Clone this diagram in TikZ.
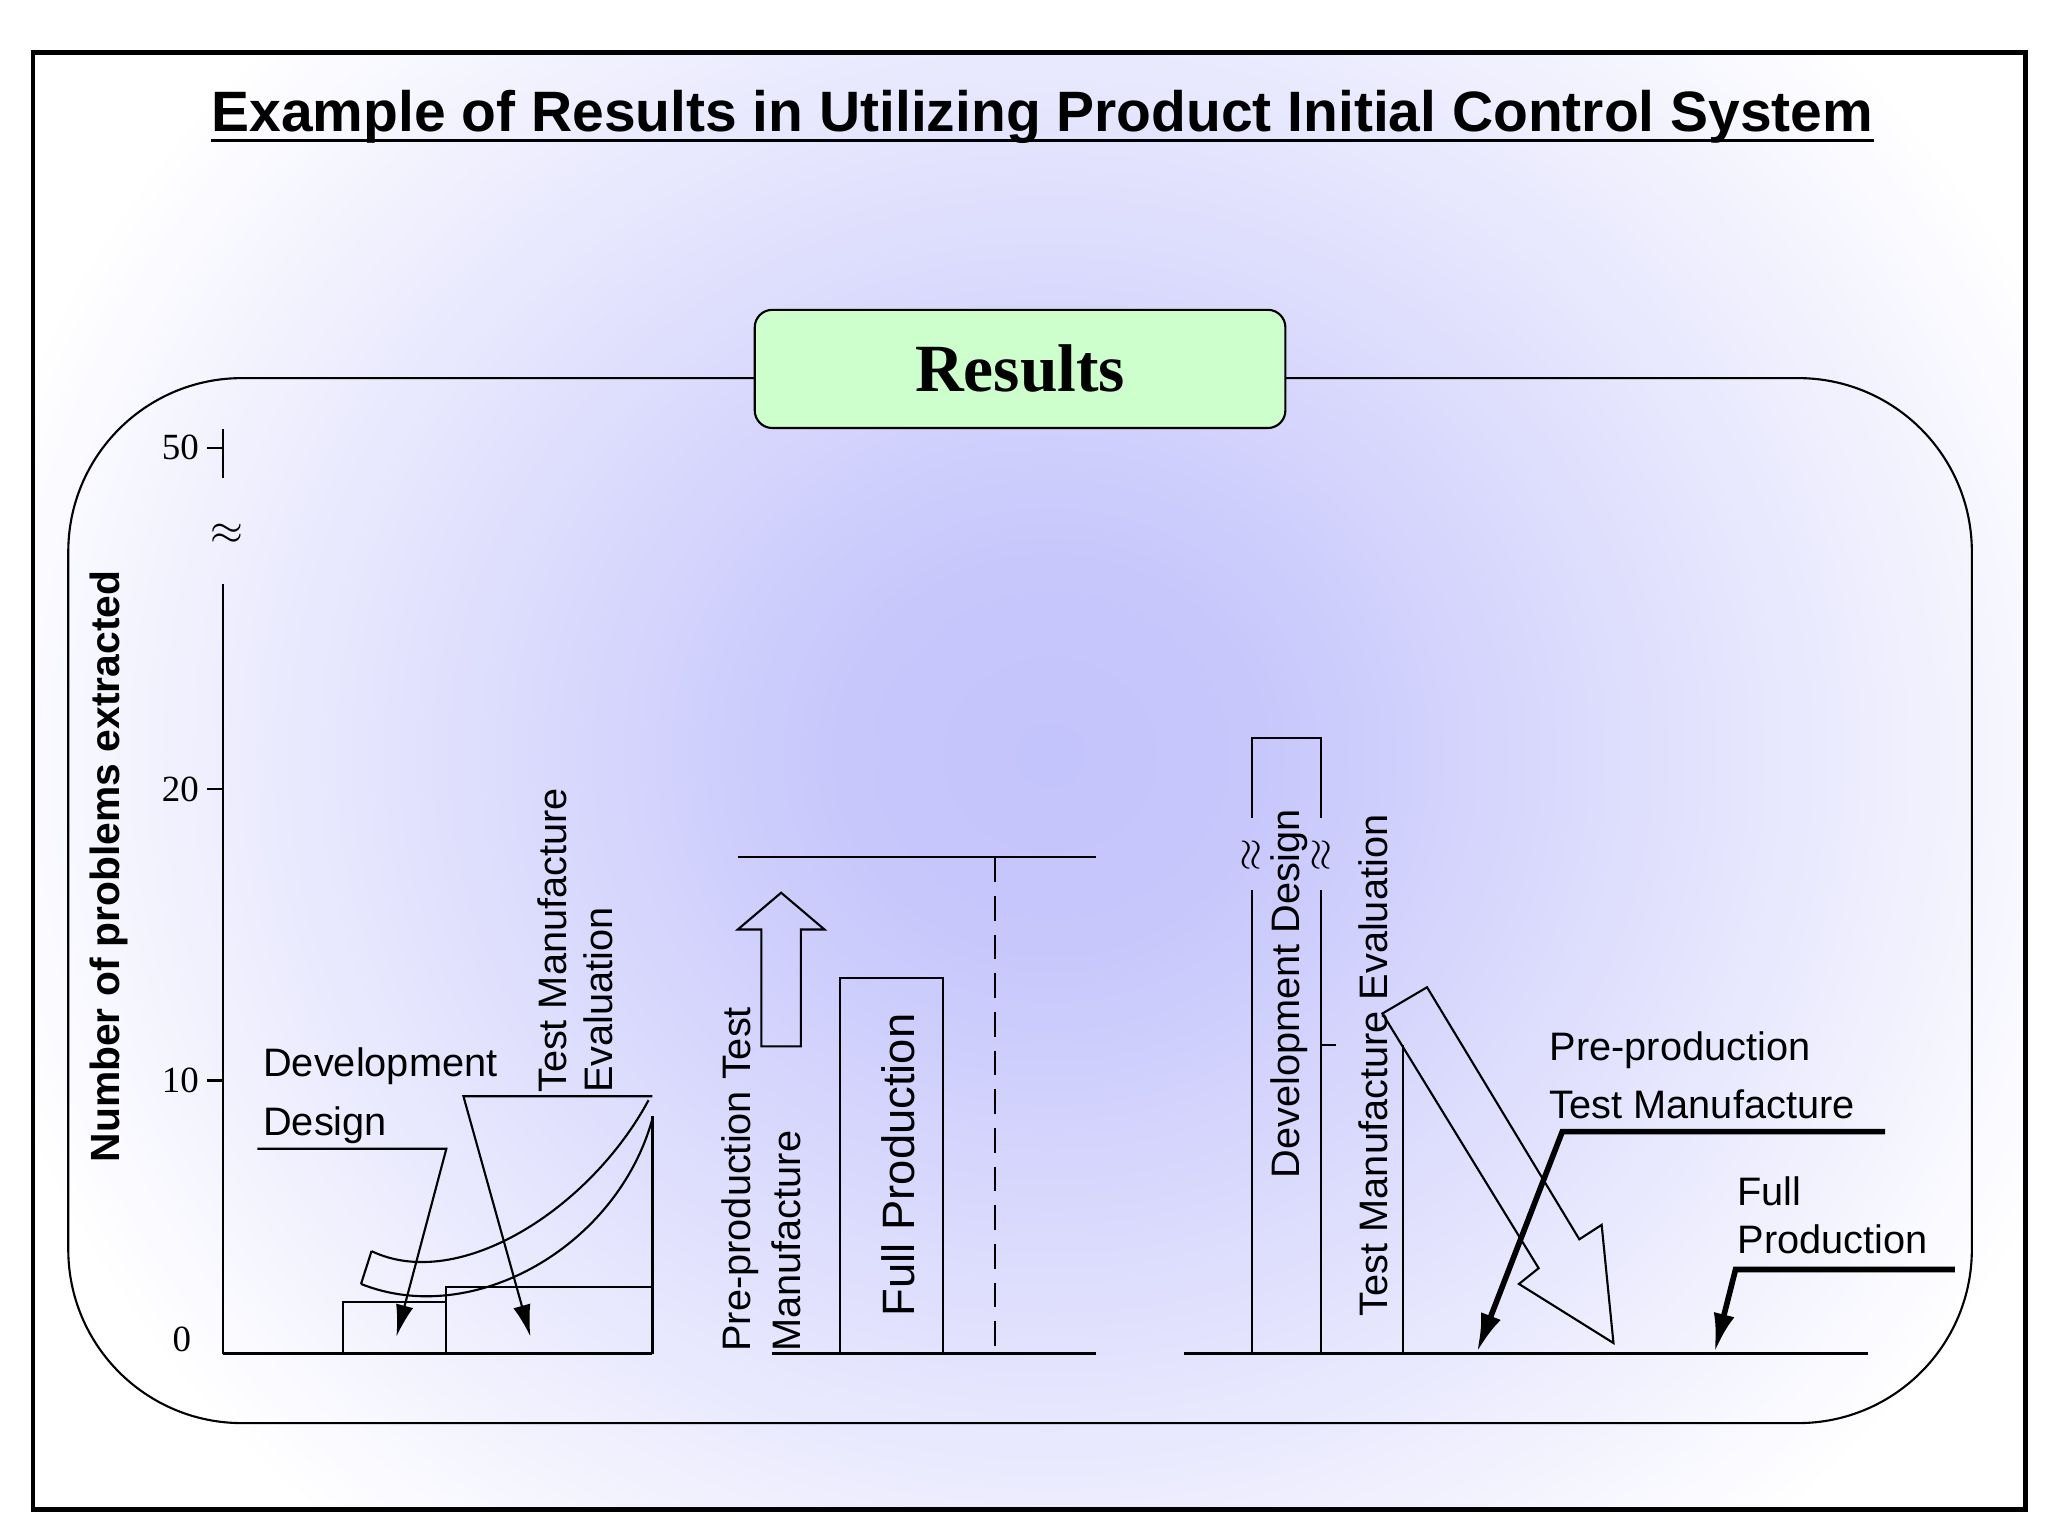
\documentclass[tikz,border=0pt]{standalone}
\usepackage{fontspec}
\setmainfont{Liberation Sans}
\newfontfamily\serf{Liberation Serif}
\usetikzlibrary{arrows.meta}
\definecolor{glow}{RGB}{196,196,252}
\definecolor{resgreen}{RGB}{204,255,204}
\pgfdeclareradialshading{myglow}{\pgfpoint{0bp}{0bp}}{color(0bp)=(glow); color(4bp)=(glow!95!white); color(13bp)=(glow!45!white); color(21bp)=(white); color(50bp)=(white)}
\begin{document}
\begin{tikzpicture}[x=0.013128cm,y=-0.013128cm,
  ln/.style={line width=0.6pt},
  lab/.style={font=\fontsize{11.3}{13}\selectfont},
  vlab/.style={lab,rotate=90,anchor=west,inner sep=0pt},
  num/.style={font=\serf\fontsize{10.5}{12}\selectfont,anchor=east,inner sep=0pt},
  arr/.style={ln,-{Latex[length=9pt,width=5pt]}},
  thk/.style={line width=1.6pt,-{Latex[length=11pt,width=6pt]}}]
\useasboundingbox (0,0) rectangle (1560,1170);
\fill[white] (0,0) rectangle (1560,1170);
\begin{scope}
\clip (27,42) rectangle (1541,1148);
\shade[shading=myglow] (-200,-350) rectangle (1800,1500);
\end{scope}
\draw[line width=1.3pt] (25,40) rectangle (1543,1150);
% title
\node[font=\bfseries\fontsize{16.2}{18}\selectfont,anchor=base,inner sep=0pt] (title) at (794,100) {Example of Results in Utilizing Product Initial Control System};
\draw[line width=1pt] (title.base west) ++(0,7) coordinate (u0) (title.base east) ++(0,7) coordinate (u1);
\draw[line width=1pt] (u0) -- (u1);
% rounded panel
\draw[ln] (52,288) [rounded corners=130pt*0.38] rectangle (1502,1084);
\node[draw,ln,fill=resgreen,rounded corners=5pt,minimum width=404*0.13128cm/10,minimum height=90*0.13128cm/10,font=\serf\bfseries\fontsize{19.2}{22}\selectfont] (res) at (777,281) {Results};
% y axis
\coordinate (a1) at (170,327); \coordinate (a2) at (170,364);
\coordinate (a3) at (170,445); \coordinate (a4) at (170,1031);
\draw[ln] (a1) -- (a2); \draw[ln] (a3) -- (a4);
\node[font=\serf\fontsize{12}{12}\selectfont,inner sep=0pt] (brk) at (173,407) {$\approx$};
\foreach \v/\y in {50/341,20/601,10/823}{
  \draw[ln] (158,\y) -- (170,\y);
  \node[num] (n\v) at (152,\y) {\v};}
\node[num] (n0) at (146,1020) {0};
\node[font=\bfseries\fontsize{11.6}{13}\selectfont,rotate=90,inner sep=0pt] (ylab) at (83,660) {Number of problems extracted};
% left chart
\coordinate (b0) at (170,1031); \coordinate (b1) at (497,1031);
\draw[ln] (b0) -- (b1);
\draw[ln] (261,1031) -- (261,992) -- (340,992) -- (340,1031);
\draw[ln] (340,992) -- (340,980) -- (497,980);
\draw[ln] (497,1031) -- (497,850);
\draw[ln] (283,953) .. controls (350,985) and (450,920) .. (494,838);
\draw[ln] (275,978) .. controls (360,1012) and (470,950) .. (497,852);
\draw[ln] (283,953) -- (275,978);
\node[lab,anchor=base west,inner sep=0pt] (dev1) at (200,820) {Development};
\node[lab,anchor=base west,inner sep=0pt] (dev2) at (200,865) {Design};
\coordinate (d0) at (196,875); \coordinate (d1) at (340,875); \coordinate (d2) at (302,1018);
\draw[arr] (d0) -- (d1) -- (d2);
\coordinate (t0) at (497,835); \coordinate (t1) at (353,835); \coordinate (t2) at (404,1018);
\draw[arr] (t0) -- (t1) -- (t2);
\node[vlab] (tme1) at (421,833) {Test Manufacture};
\node[vlab] (tme2) at (456,833) {Evaluation};
% middle chart
\draw[ln] (562,653) -- (835,653);
\draw[ln,dash pattern=on 7pt off 4pt] (758,653) -- (758,1031);
\draw[ln] (588,1031) -- (835,1031);
\draw[ln] (640,1031) -- (640,745) -- (718,745) -- (718,1031);
\draw[ln] (580,797) -- (580,708) -- (562,708) -- (595,680) -- (628,708) -- (610,708) -- (610,797) -- cycle;
\node[vlab] (pp1) at (564,1030) {Pre-production Test};
\node[vlab] (pp2) at (599,1030) {Manufacture};
\node[rotate=90,anchor=west,inner sep=0pt,font=\fontsize{12.9}{15}\selectfont] (fp) at (684,1003) {Full Production};
% right chart
\draw[ln] (902,1031) -- (1423,1031);
\draw[ln] (954,1031) -- (954,678) (954,623) -- (954,562) -- (1006,562) -- (1006,623) (1006,678) -- (1006,1031);
\node[font=\serf\fontsize{12}{12}\selectfont,inner sep=0pt,rotate=90] (bk1) at (954,651) {$\approx$};
\node[font=\serf\fontsize{12}{12}\selectfont,inner sep=0pt,rotate=90] (bk2) at (1007,651) {$\approx$};
\draw[ln] (1006,796) -- (1018,796);
\draw[ln] (1069,796) -- (1069,1031);
\node[vlab] (dd) at (982,898) {Development Design};
\node[vlab] (tmer) at (1046,1003) {Test Manufacture Evaluation};
\draw[ln] (1053,772) -- (1087,752) -- (1203,944) -- (1220,933) -- (1229,1023) -- (1157,978) -- (1172,966) -- cycle;
\node[lab,anchor=base west,inner sep=0pt] (pr1) at (1180,808) {Pre-production};
\node[lab,anchor=base west,inner sep=0pt] (pr2) at (1180,852) {Test Manufacture};
\coordinate (p0) at (1436,862); \coordinate (p1) at (1190,862); \coordinate (p2) at (1125,1030);
\draw[thk] (p0) -- (p1) -- (p2);
\node[lab,anchor=base west,inner sep=0pt] (fp1) at (1323,918) {Full};
\node[lab,anchor=base west,inner sep=0pt] (fp2) at (1323,955) {Production};
\coordinate (f0) at (1489,967); \coordinate (f1) at (1322,967); \coordinate (f2) at (1306,1030);
\draw[thk] (f0) -- (f1) -- (f2);
\end{tikzpicture}
\end{document}
